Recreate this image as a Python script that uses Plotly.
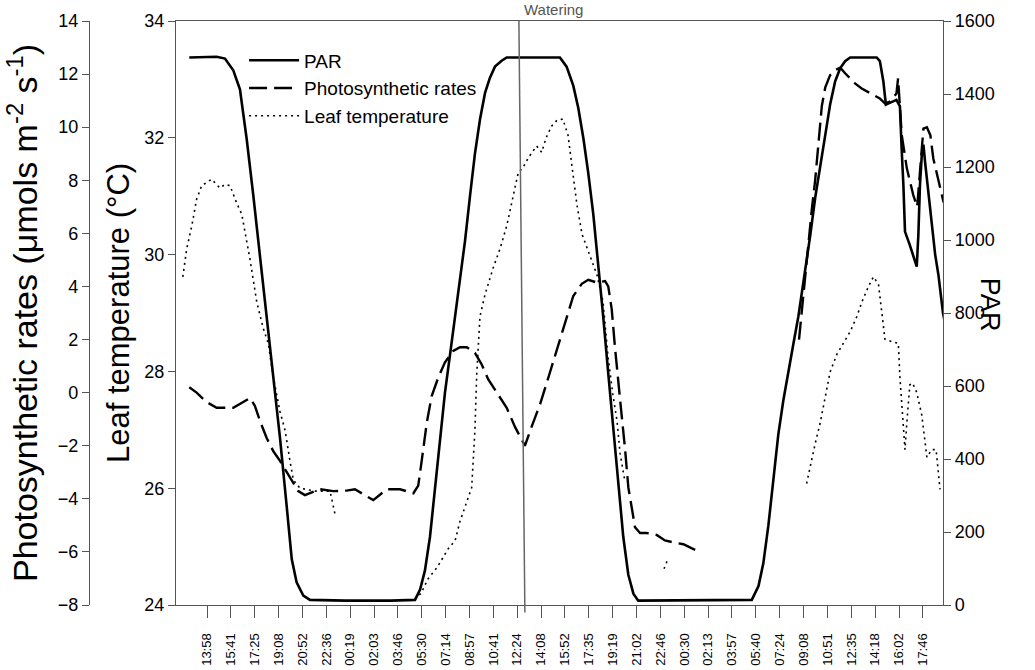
import plotly.graph_objects as go

# ---- x axis: elapsed minutes since 13:58 on day 1 ----
tick_min = [0, 103, 207, 310, 414, 518, 621, 725, 828, 932, 1036, 1139, 1243, 1346, 1450,
            1554, 1657, 1761, 1864, 1968, 2072, 2175, 2279, 2382, 2486, 2590, 2693, 2797,
            2900, 3004, 3108]
tick_lbl = ["13:58", "15:41", "17:25", "19:08", "20:52", "22:36", "00:19", "02:03", "03:46",
            "05:30", "07:14", "08:57", "10:41", "12:24", "14:08", "15:52", "17:35", "19:19",
            "21:02", "22:46", "00:30", "02:13", "03:57", "05:40", "07:24", "09:08", "10:51",
            "12:35", "14:18", "16:02", "17:46"]

# ---- PAR ----
par_t = [-77, 42, 78, 114, 143, 172, 201, 230, 259, 288, 317, 346, 368, 389, 418, 447, 600,
         800, 903, 925, 946, 968, 990, 1012, 1033, 1055, 1077, 1098, 1120, 1142, 1163, 1185,
         1207, 1228, 1250, 1279, 1301, 1532, 1561, 1590, 1612, 1634, 1655, 1677, 1699, 1720,
         1742, 1764, 1785, 1807, 1829, 1851, 1872, 2100, 2365, 2394, 2415, 2437, 2459, 2480,
         2502, 2524, 2546, 2567, 2589, 2619, 2640, 2662, 2684, 2705, 2727, 2749, 2770, 2792,
         2907, 2921, 2936, 2947, 2964, 2993, 3008, 3011, 3016, 3023, 3030, 3051, 3066, 3081,
         3088, 3095, 3103, 3110, 3117, 3132, 3146, 3161, 3175, 3195, 3217]
par_v = [1500, 1502, 1497, 1465, 1413, 1278, 1122, 956, 790, 623, 457, 270, 125, 62, 26, 14, 12,
         12, 14, 42, 94, 187, 322, 457, 582, 686, 790, 893, 997, 1122, 1236, 1330,
         1403, 1444, 1475, 1491, 1500, 1500, 1475, 1423, 1361, 1278, 1184, 1070, 935, 790,
         634, 478, 322, 187, 83, 31, 12, 12, 14, 52, 114, 218, 343, 467,
         561, 634, 717, 790, 880, 1014, 1115, 1197, 1288, 1371, 1435, 1471, 1490, 1500,
         1500, 1490, 1435, 1371, 1375, 1384, 1366, 1307, 1243, 1151, 1023, 986, 959, 927,
         1014, 1151, 1234, 1261, 1215, 1124, 1033, 960, 905, 800, 730]

# ---- Photosynthetic rates ----
ph_t = [-77, -45, -1, 42, 114, 158, 187, 208, 230, 259, 288, 317, 346, 375, 396, 425, 447, 491,
        548, 606, 642, 672, 722, 780, 838, 896, 917, 932, 954, 975, 1004, 1033, 1069, 1098,
        1127, 1163, 1192, 1221, 1258, 1301, 1337, 1380, 1409, 1446, 1482, 1518, 1554, 1590,
        1627, 1655, 1692, 1728, 1742, 1757, 1771, 1785, 1800, 1815, 1829, 1843, 1858, 1880,
        1909, 1952, 1988, 2024, 2068, 2103, 2140, 2300,
        2570, 2583, 2604, 2625, 2640, 2654, 2669, 2684, 2705, 2727, 2749, 2770, 2792, 2813,
        2842, 2886, 2921, 2943, 2964, 2982, 2993, 3000, 3008, 3016, 3038, 3051, 3066, 3083,
        3092, 3103, 3110, 3125, 3140, 3153, 3175, 3197, 3211]
ph_v = [0.2, 0.0, -0.36, -0.57, -0.57, -0.36, -0.2, -0.5, -1.07, -1.71, -2.21, -2.57, -3.0,
        -3.43, -3.71, -3.86, -3.79, -3.64, -3.71, -3.69, -3.64, -3.79, -4.05, -3.64, -3.64,
        -3.79, -3.5, -2.57, -1.14, -0.14, 0.57, 1.14, 1.57, 1.71, 1.71, 1.5, 1.07, 0.5, 0.0,
        -0.57, -1.29, -2.0, -1.29, -0.43, 0.57, 1.6, 2.57, 3.64, 4.1, 4.25, 4.15, 4.2, 4.0,
        3.14, 1.71, 0.57, -0.86, -2.14, -3.57, -4.29, -5.07, -5.29, -5.29, -5.36, -5.57,
        -5.64, -5.71, -5.86, -6.0, None,
        2.0, 3.2, 5.0, 6.86, 8.0, 9.43, 10.8, 11.5, 11.96, 12.15, 12.24, 12.03, 11.85, 11.65,
        11.46, 11.23, 11.08, 10.9, 10.96, 11.15, 11.27, 11.84, 10.58, 9.7, 8.45, 7.94, 7.44,
        7.0, 7.94, 9.33, 9.95, 10.0, 9.7, 8.82, 7.94, 7.19, 7.0]

# ---- Leaf temperature ----
lf_t = [-105, -88, -66, -45, -23, 20, 56, 78, 100, 129, 151, 187, 216, 244, 266, 288, 317, 339,
        360, 375, 404, 469, 534, 556, 700,
        903, 929, 960, 1000, 1048, 1077, 1098, 1127, 1149, 1163, 1171, 1185, 1207, 1243, 1272,
        1301, 1330, 1351, 1373, 1395, 1431, 1453, 1472, 1496, 1519, 1545, 1567, 1584, 1606,
        1628, 1650, 1671, 1693, 1719, 1741, 1762, 1780, 1793, 1815, 1900,
        1984, 1997, 2300,
        2603, 2618, 2640, 2662, 2684, 2705, 2734, 2792, 2821, 2843, 2871, 2893, 2915, 2929,
        2943, 2972, 3001, 3008, 3016, 3023, 3030, 3038, 3051, 3063, 3081, 3103, 3125, 3146,
        3165, 3182]
lf_v = [29.62, 30.10, 30.49, 30.95, 31.18, 31.29, 31.14, 31.2, 31.18, 30.88, 30.69, 29.91, 29.19,
        28.74, 28.48, 27.90, 27.31, 26.99, 26.47, 26.14, 26.0, 25.95, 25.95, 25.55, None,
        24.1, 24.2, 24.45, 24.65, 24.97, 25.1, 25.43, 25.75, 26.01, 26.99, 27.96, 28.94, 29.32,
        29.78, 30.10, 30.49, 31.01, 31.40, 31.50, 31.66, 31.86, 31.75, 32.0, 32.2, 32.3, 32.32,
        32.05, 31.5, 30.85, 30.35, 30.1, 29.9, 29.65, 29.2, 28.25, 27.6, 27.15, 26.6, 26.1, None,
        24.62, 24.75, None,
        26.08, 26.37, 26.76, 27.12, 27.57, 27.99, 28.29, 28.68, 28.94, 29.19, 29.45, 29.62,
        29.49, 29.06, 28.55, 28.51, 28.48, 27.90, 27.38, 27.05, 26.66, 27.12, 27.77, 27.8,
        27.64, 27.25, 26.53, 26.66, 26.66, 25.98]

watering_top = 1354
watering_bottom = 1380

FONT = "Liberation Sans, Arial, sans-serif"
AX = "#555555"

fig = go.Figure()
fig.add_trace(go.Scatter(x=par_t, y=par_v, name="PAR", mode="lines", yaxis="y3",
                         line=dict(color="black", width=2.6), connectgaps=False))
fig.add_trace(go.Scatter(x=ph_t, y=ph_v, name="Photosynthetic rates", mode="lines", yaxis="y2",
                         line=dict(color="black", width=2.4, dash="18px,7px"), connectgaps=False))
fig.add_trace(go.Scatter(x=lf_t, y=lf_v, name="Leaf temperature", mode="lines", yaxis="y",
                         line=dict(color="black", width=1.6, dash="2px,4px"), connectgaps=False))

common = dict(showgrid=False, zeroline=False, showline=True, linecolor=AX, linewidth=1.2,
              ticks="outside", ticklen=7, tickwidth=1, tickcolor=AX, automargin=False,
              tickfont=dict(family=FONT, size=18, color="black"))

fig.update_layout(
    width=1035, height=670, autosize=False,
    margin=dict(l=40, r=92, t=21, b=65),
    paper_bgcolor="white", plot_bgcolor="white",
    font=dict(family=FONT, color="black"),
    xaxis=dict(domain=[0.1506, 1], range=[-134.6, 3195], tickmode="array",
               tickvals=tick_min, ticktext=tick_lbl, tickangle=-90, automargin=False,
               showgrid=False, zeroline=False, showline=True, linecolor=AX, linewidth=1.2,
               mirror=True, ticks="outside", ticklen=12, tickwidth=1, tickcolor=AX,
               ticklabelstandoff=10,
               tickfont=dict(family=FONT, size=13, color="black")),
    yaxis=dict(range=[24, 34], tick0=24, dtick=2, anchor="x", side="left", **common),
    yaxis2=dict(range=[-8, 14], tick0=-8, dtick=2, overlaying="y", anchor="free",
                position=0.0543, side="left", **common),
    yaxis3=dict(range=[0, 1600], tick0=0, dtick=200, overlaying="y", anchor="x",
                side="right", **common),
    showlegend=True,
    legend=dict(x=0.226, y=0.965, xanchor="left", yanchor="top", bgcolor="rgba(0,0,0,0)",
                font=dict(family=FONT, size=19, color="black"), itemwidth=50,
                tracegroupgap=0),
    annotations=[
        dict(text="Photosynthetic rates (μmols m<sup>-2</sup> s<sup>-1</sup>)",
             x=-0.0199, y=0.5, xref="paper", yref="paper", textangle=-90, showarrow=False,
             xanchor="center", yanchor="middle", font=dict(family=FONT, size=34)),
        dict(text="Leaf temperature (°C)", x=0.0864, y=0.5, xref="paper", yref="paper",
             textangle=-90, showarrow=False, xanchor="center", yanchor="middle",
             font=dict(family=FONT, size=31)),
        dict(text="PAR", x=1.052, y=0.514, xref="paper", yref="paper", textangle=90,
             showarrow=False, xanchor="center", yanchor="middle",
             font=dict(family=FONT, size=27)),
        dict(text="Watering", x=watering_top + 12, y=1.019, xref="x", yref="paper",
             showarrow=False, xanchor="left", yanchor="middle",
             font=dict(family=FONT, size=15, color="#555555")),
    ],
    shapes=[dict(type="line", xref="x", yref="paper", x0=watering_top, y0=1,
                 x1=watering_bottom, y1=-0.013, line=dict(color="#666666", width=1.5))],
)

fig.write_html("out.html")
